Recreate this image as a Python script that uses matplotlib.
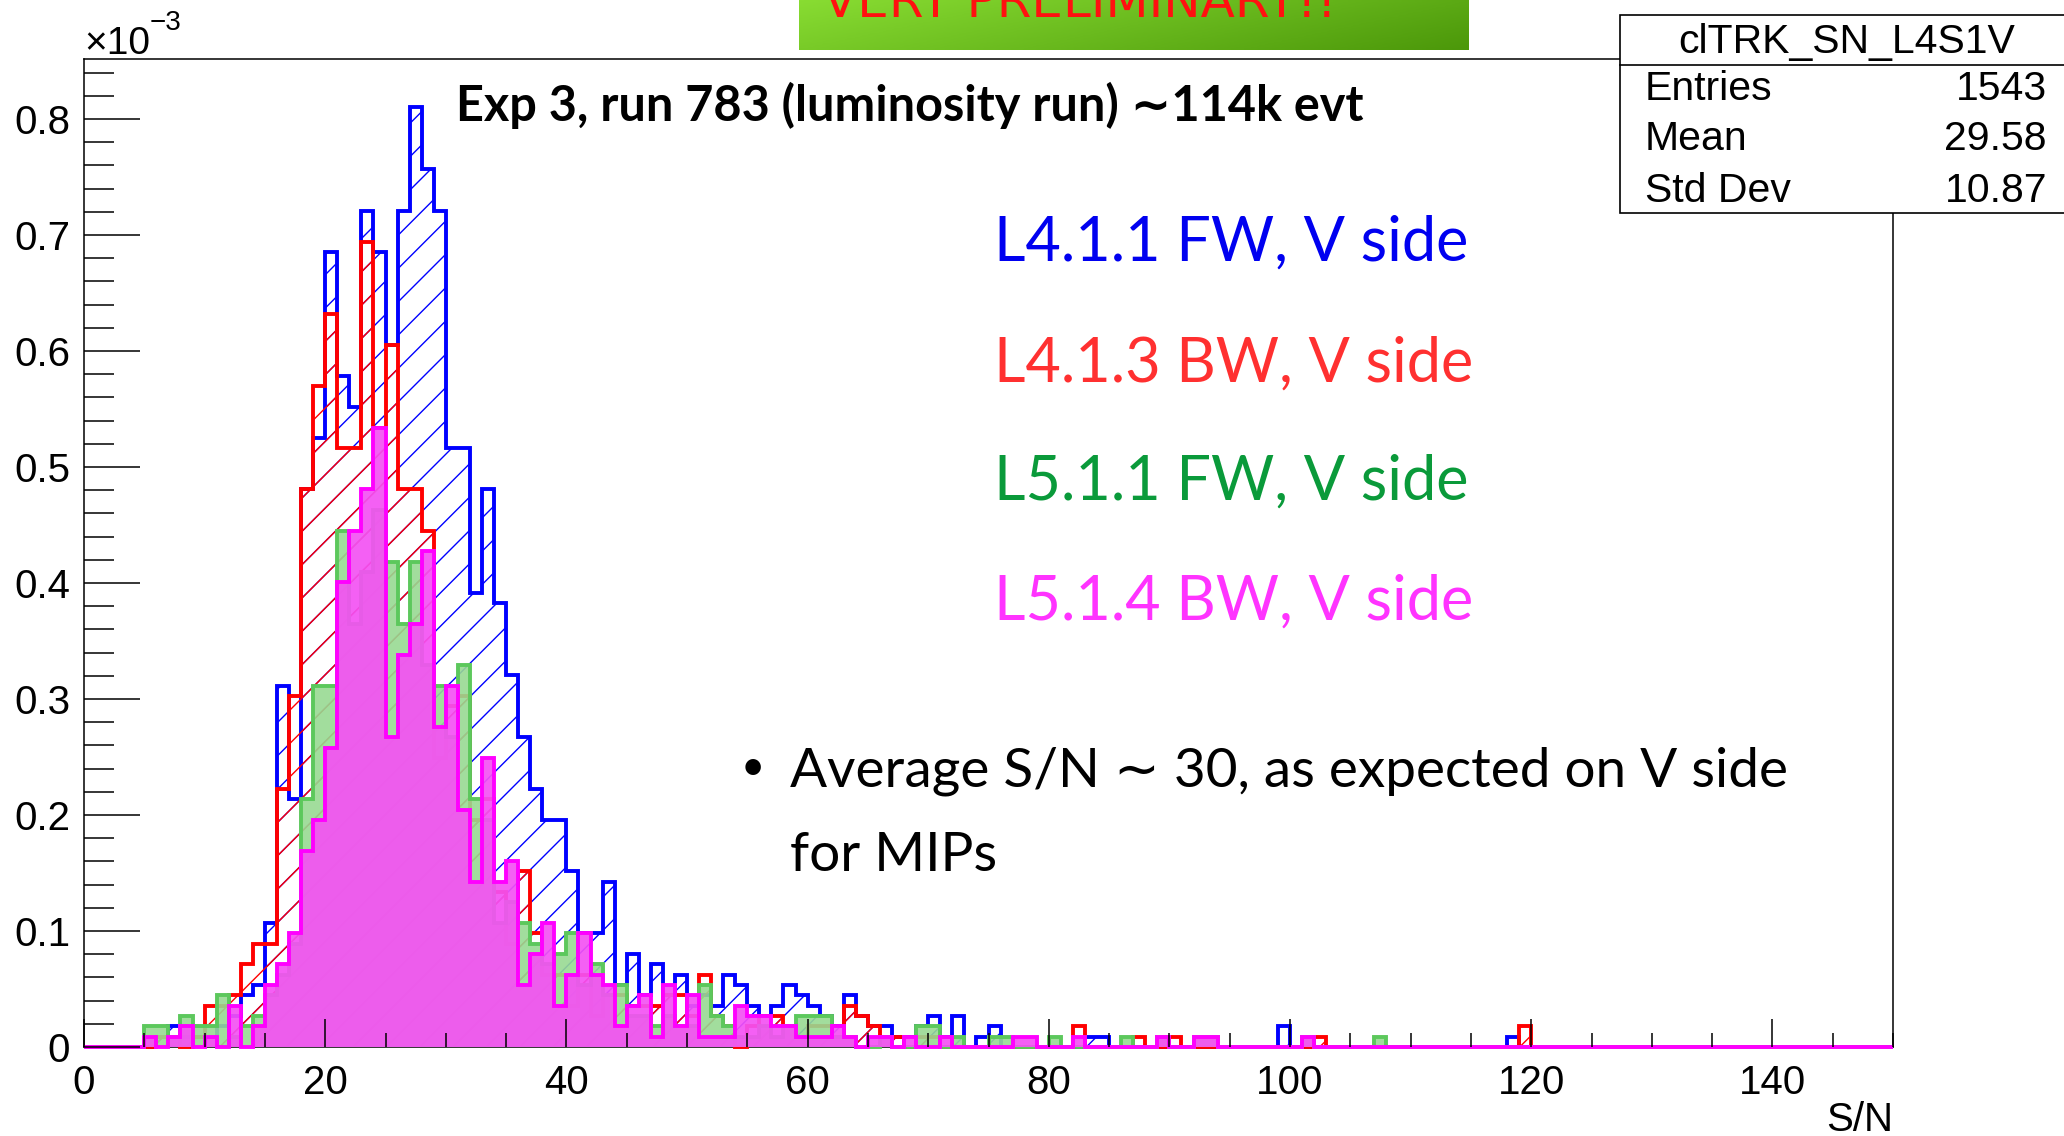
import numpy as np
import matplotlib.pyplot as plt
from matplotlib.patches import Rectangle
from matplotlib.lines import Line2D
from matplotlib.colors import LinearSegmentedColormap
from matplotlib.ticker import MultipleLocator, FuncFormatter

plt.rcParams['font.family'] = ['Liberation Sans', 'DejaVu Sans']
plt.rcParams['hatch.linewidth'] = 1.0

W, H = 2064, 1136           # canvas size in pixels
edges = np.arange(0, 151)   # S/N bins of width 1
w_entry = 0.0089            # weight of one cluster entry (x1e-3)

# cluster counts per S/N bin, bins 0..79, plus sparse tail above 80
l411_fw = [0, 0, 0, 0, 0, 0, 1, 2, 1, 1,
           1, 2, 3, 5, 6, 12, 35, 24, 54, 59,
           77, 65, 62, 81, 77, 68, 81, 91, 85, 81,
           58, 58, 44, 54, 43, 36, 30, 25, 22, 22,
           17, 11, 11, 16, 6, 9, 5, 8, 5, 7,
           4, 5, 4, 7, 6, 4, 3, 4, 6, 5,
           4, 3, 2, 5, 3, 2, 2, 1, 1, 2,
           3, 1, 3, 0, 1, 2, 0, 0, 0, 0]
l411_fw_tail = {83: 1, 84: 1, 99: 2, 118: 1}

l413_bw = [0, 0, 0, 0, 0, 0, 1, 1, 0, 1,
           4, 4, 5, 8, 10, 10, 25, 34, 54, 64,
           71, 58, 58, 78, 60, 68, 54, 54, 50, 28,
           33, 34, 22, 24, 15, 10, 17, 11, 7, 7,
           4, 7, 3, 5, 5, 4, 4, 4, 5, 5,
           3, 7, 3, 2, 0, 2, 3, 3, 2, 1,
           2, 2, 1, 4, 3, 2, 1, 1, 0, 1,
           1, 0, 0, 0, 0, 0, 0, 0, 0, 0]
l413_bw_tail = {82: 2, 87: 1, 90: 1, 102: 1, 119: 2}

l511_fw = [0, 0, 0, 0, 0, 2, 2, 1, 3, 2,
           2, 5, 1, 2, 3, 5, 7, 10, 24, 35,
           35, 50, 41, 46, 52, 47, 41, 47, 37, 35,
           30, 37, 24, 22, 12, 14, 12, 10, 8, 9,
           11, 6, 8, 5, 6, 3, 3, 2, 3, 2,
           2, 6, 3, 2, 1, 1, 2, 1, 2, 3,
           3, 3, 1, 1, 0, 0, 1, 0, 0, 2,
           2, 0, 1, 0, 0, 1, 1, 0, 0, 0]
l511_fw_tail = {80: 1, 86: 1, 89: 1, 92: 1, 93: 1, 101: 1, 107: 1}

l514_bw = [0, 0, 0, 0, 0, 1, 0, 1, 2, 0,
           1, 0, 4, 0, 2, 6, 8, 11, 19, 22,
           29, 45, 50, 54, 60, 30, 38, 41, 48, 31,
           35, 23, 16, 28, 16, 18, 6, 9, 12, 4,
           7, 11, 7, 6, 2, 4, 5, 1, 6, 2,
           5, 1, 1, 1, 4, 3, 3, 2, 2, 1,
           1, 1, 2, 1, 0, 1, 1, 0, 1, 0,
           0, 1, 0, 0, 0, 0, 0, 1, 1, 0]
l514_bw_tail = {82: 1, 89: 1, 92: 1, 93: 1, 101: 1}

labels = ['L4.1.1 FW, V side', 'L4.1.3 BW, V side',
          'L5.1.1 FW, V side', 'L5.1.4 BW, V side']
stats_name = 'clTRK_SN_L4S1V'
stats_rows = [('Entries', '1543'), ('Mean', '29.58'), ('Std Dev', '10.87')]


def contents(core, tail):
    c = np.zeros(len(edges) - 1)
    c[:len(core)] = core
    for b, n in tail.items():
        c[b] = n
    return c * w_entry


def fx(x):
    return x / W


def fy(y):
    return 1 - y / H


h_blue = contents(l411_fw, l411_fw_tail)
h_red = contents(l413_bw, l413_bw_tail)
h_green = contents(l511_fw, l511_fw_tail)
h_mag = contents(l514_bw, l514_bw_tail)

fig = plt.figure(figsize=(W / 100, H / 100), dpi=100)
ax = fig.add_axes([fx(84), fy(1047), fx(1893 - 84), (1047 - 59) / H])
ax.set_xlim(0, 150)
ax.set_ylim(0, 0.8517)

lw = 2.8
# hatched L4 histograms
ax.stairs(h_blue, edges, fill=True, facecolor='none', edgecolor='#0000ff',
          hatch='/', linewidth=0, zorder=1)
ax.stairs(h_blue, edges, color='#0000ff', linewidth=lw, zorder=2, clip_on=False)
ax.stairs(h_red, edges, fill=True, facecolor='none', edgecolor='#ff0000',
          hatch='/', linewidth=0, zorder=3)
ax.stairs(h_red, edges, color='#ff0000', linewidth=lw, zorder=4, clip_on=False)
# filled L5 histograms
ax.stairs(h_green, edges, fill=True, facecolor='#98da92', linewidth=0,
          alpha=0.9, zorder=5)
ax.stairs(h_green, edges, color='#5cc85c', linewidth=lw, zorder=6, clip_on=False)
ax.stairs(h_mag, edges, fill=True, facecolor='#f452f4', linewidth=0,
          alpha=0.92, zorder=7)
ax.stairs(h_mag, edges, color='#ff00ff', linewidth=lw, zorder=8, clip_on=False)

for a in (ax.xaxis, ax.yaxis):
    a.set_zorder(20)
for s in ax.spines.values():
    s.set_linewidth(1.1)
    s.set_zorder(0.5)

ax.xaxis.set_major_locator(MultipleLocator(20))
ax.xaxis.set_minor_locator(MultipleLocator(5))
ax.yaxis.set_major_locator(MultipleLocator(0.1))
ax.yaxis.set_minor_locator(MultipleLocator(0.02))
ax.yaxis.set_major_formatter(FuncFormatter(lambda v, p: '0' if abs(v) < 1e-9 else f'{v:.1f}'))
ax.tick_params(axis='x', which='major', direction='in', length=20, width=1.1,
               labelsize=29, pad=12, top=False)
ax.tick_params(axis='x', which='minor', direction='in', length=10, width=1.1, top=False)
ax.tick_params(axis='y', which='major', direction='in', length=40, width=1.1,
               labelsize=29, pad=10, right=False)
ax.tick_params(axis='y', which='minor', direction='in', length=21.6, width=1.1, right=False)

fig.text(fx(1893), fy(1131), 'S/N', ha='right', va='baseline', fontsize=29)
fig.text(fx(84), fy(54), '\u00d710', ha='left', va='baseline', fontsize=28)
fig.text(fx(150), fy(30), '\u22123', ha='left', va='baseline', fontsize=20)

slide = ['Lato', 'DejaVu Sans']
fig.text(fx(910), fy(121), 'Exp 3, run 783 (luminosity run) \u223c114k evt',
         ha='center', va='baseline', fontsize=35, fontweight='bold', family=slide)

label_colors = ['#0000f0', '#ff3030', '#0a9a3a', '#ff33ff']
label_base = [261, 382, 500, 620]
for txt, c, yb in zip(labels, label_colors, label_base):
    fig.text(fx(994), fy(yb), txt, color=c, ha='left', va='baseline',
             fontsize=44, family=slide)

fig.text(fx(753), fy(780), '\u2022', ha='center', va='baseline', fontsize=30, family=slide)
fig.text(fx(790), fy(787), 'Average S/N \u223c 30, as expected on V side',
         ha='left', va='baseline', fontsize=39.5, family=slide)
fig.text(fx(790), fy(871), 'for MIPs', ha='left', va='baseline', fontsize=39.5, family=slide)

# statistics box
fig.add_artist(Rectangle((fx(1620), fy(213)), fx(460), (213 - 15) / H,
                         transform=fig.transFigure, facecolor='white',
                         edgecolor='black', linewidth=1.2, zorder=30))
fig.add_artist(Line2D([fx(1620), 1.0], [fy(65), fy(65)], transform=fig.transFigure,
                      color='black', linewidth=1.2, zorder=31))
fig.text(fx(1847), fy(42), stats_name, ha='center', va='center', fontsize=29.5, zorder=32)
for (name, val), yc in zip(stats_rows, [89, 139, 191]):
    fig.text(fx(1645), fy(yc), name, ha='left', va='center', fontsize=29.5, zorder=32)
    fig.text(fx(2047), fy(yc), val, ha='right', va='center', fontsize=29.5, zorder=32)

# green banner at the top of the slide
axb = fig.add_axes([fx(799), fy(50), fx(670), 50 / H])
gx, gy = np.meshgrid(np.linspace(0, 1, 200), np.linspace(0, 1, 20))
grad = 0.75 * gx + 0.25 * gy
cmap = LinearSegmentedColormap.from_list('banner', ['#88dc32', '#4c980a'])
axb.imshow(grad, cmap=cmap, aspect='auto', extent=[0, 1, 0, 1], origin='upper')
axb.set_xlim(0, 1)
axb.set_ylim(0, 1)
axb.axis('off')
axb.text(0.036, 0.66, 'VERY PRELIMINARY!!', color='#ff1010', fontsize=36,
         ha='left', va='baseline', family=['DejaVu Sans'], clip_on=True)

fig.savefig('out.png', dpi=100)
